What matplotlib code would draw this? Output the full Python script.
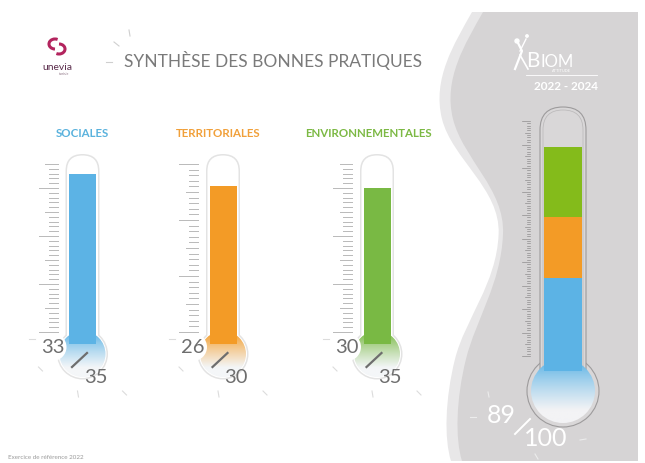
import numpy as np
import matplotlib.pyplot as plt
from matplotlib.patches import Circle, FancyBboxPatch, Rectangle, PathPatch, Arc
from matplotlib.path import Path
from matplotlib.colors import to_rgb

# data
categories = ['SOCIALES', 'TERRITORIALES', 'ENVIRONNEMENTALES']
scores = [33, 26, 30]
max_scores = [35, 30, 35]
total_score = 89
total_max = 100
period = '2022 - 2024'

cat_colors = ['#5cb3e5', '#f39b26', '#79b944']
label_colors = ['#5ab2dd', '#f1a03a', '#7cb944']
big_colors = ['#5cb3e5', '#f39b26', '#84bb1b']

W, H = 645, 464
fig = plt.figure(figsize=(W / 100, H / 100), dpi=100)
ax = fig.add_axes([0, 0, 1, 1])
ax.set_xlim(0, W)
ax.set_ylim(H, 0)
ax.axis('off')
plt.rcParams['font.family'] = ['Lato', 'DejaVu Sans']


def gradient_disc(cx, cy, r, c_top, c_bot, z):
    # vertical gradient clipped to a disc
    t = np.linspace(0, 1, 100)[:, None]
    ct, cb = np.array(to_rgb(c_top)), np.array(to_rgb(c_bot))
    w = np.clip((t - 0.05) / 0.75, 0, 1) ** 0.8
    img = (ct[None, None, :] * (1 - w[..., None]) + cb[None, None, :] * w[..., None])
    img = np.repeat(img, 2, axis=1)
    im = ax.imshow(img, extent=(cx - r, cx + r, cy + r, cy - r), zorder=z, aspect='auto', interpolation='bilinear')
    clip = Circle((cx, cy), r, transform=ax.transData)
    im.set_clip_path(clip)


def scale_ticks(x_right, y_base, y_top, vmax, color, minor_len, major_len, lw):
    step = (y_base - y_top) / vmax
    for v in range(vmax + 1):
        y = y_base - v * step
        if v % 10 == 0:
            ln = major_len
        elif v % 5 == 0:
            ln = minor_len * 1.35
        else:
            ln = minor_len
        ax.plot([x_right - ln, x_right], [y, y], color=color, lw=lw, zorder=3)


# ---- grey panel on the right ----
def panel_path(dx):
    verts = [(638, 13), (483 + dx, 13),
             (465 + dx, 45), (443 + dx, 80), (453 + dx, 120),
             (463 + dx, 160), (505 + dx * 0.4, 190), (503 + dx * 0.4, 235),
             (501 + dx * 0.4, 285), (476 + dx, 320), (466 + dx, 360),
             (456 + dx, 400), (455 + dx, 440), (462 + dx, 462),
             (638, 462), (638, 13)]
    codes = [Path.MOVETO, Path.LINETO,
             Path.CURVE4, Path.CURVE4, Path.CURVE4,
             Path.CURVE4, Path.CURVE4, Path.CURVE4,
             Path.CURVE4, Path.CURVE4, Path.CURVE4,
             Path.CURVE4, Path.CURVE4, Path.CURVE4,
             Path.LINETO, Path.CLOSEPOLY]
    return Path(verts, codes)


ax.add_patch(PathPatch(panel_path(-11), facecolor='#e8e7e8', edgecolor='none', zorder=0))
ax.add_patch(PathPatch(panel_path(0), facecolor='#d6d4d5', edgecolor='none', zorder=0.5))

# ---- header ----
ax.text(124, 60, 'SYNTHÈSE DES BONNES PRATIQUES', fontsize=12.5, color='#7a7a7a',
        ha='left', va='center', zorder=5)
for (x0, y0, x1, y1) in [(129, 31, 130, 37), (114, 43, 119, 47), (106, 63, 112, 63)]:
    ax.plot([x0, x1], [y0, y1], color='#cfcfcf', lw=0.8, zorder=2)

# unevia logo
ax.add_patch(Arc((55, 45), 12, 10, theta1=90, theta2=300, color='#b3245e', lw=2.2, zorder=5))
ax.add_patch(Arc((59, 50), 12, 10, theta1=270, theta2=480, color='#b3245e', lw=2.2, zorder=5))
ax.text(57, 67, 'unevia', fontsize=7.5, color='#5b2d4c', ha='center', va='center', zorder=5)
ax.text(64, 74, 'tunisie', fontsize=2.5, color='#8a7080', ha='center', va='center', zorder=5)

# footer
ax.text(8, 458, 'Exercice de référence 2022', fontsize=4.5, color='#9a9a9a', ha='left', va='center')

# ---- small thermometers ----
centers = [82.5, 223, 377]
label_x = [82, 218, 368]
tube_top = 155
bulb_y = 355
y_base, y_full = 333, 165

for i, cat in enumerate(categories):
    cx = centers[i]
    ax.text(label_x[i], 134, cat, fontsize=8.3, fontweight='bold', color=label_colors[i],
            ha='center', va='center', zorder=5)
    # outline
    ax.add_patch(Circle((cx, bulb_y), 25.5, facecolor='#e3e3e3', edgecolor='none', zorder=1))
    ax.add_patch(FancyBboxPatch((cx - 17, tube_top), 34, bulb_y - tube_top,
                                boxstyle='round,pad=0,rounding_size=17',
                                facecolor='#e3e3e3', edgecolor='none', zorder=1))
    ax.add_patch(Circle((cx, bulb_y), 24, facecolor='white', edgecolor='none', zorder=1.2))
    ax.add_patch(FancyBboxPatch((cx - 15.5, tube_top + 1.5), 31, bulb_y - tube_top,
                                boxstyle='round,pad=0,rounding_size=15.5',
                                facecolor='white', edgecolor='none', zorder=1.2))
    # fill column
    level = y_base - scores[i] / max_scores[i] * (y_base - y_full)
    ax.add_patch(Rectangle((cx - 13.5, level), 27, bulb_y - 12 - level,
                           facecolor=cat_colors[i], edgecolor='none', zorder=2))
    gradient_disc(cx, bulb_y, 23, cat_colors[i], '#f4f6f8', 1.5)
    ax.add_patch(Rectangle((cx - 13.5, bulb_y - 16), 27, 6,
                           facecolor=cat_colors[i], edgecolor='none', zorder=1.6))
    # scale
    scale_ticks(cx - 25, y_base, y_full, max_scores[i], '#b9b9b9', 9, 19, 0.7)
    # value labels
    ax.add_patch(Circle((cx - 30, 348), 14, facecolor='white', edgecolor='none', zorder=4))
    ax.text(cx - 30, 348, str(scores[i]), fontsize=14.5, color='#6e6e6e',
            ha='center', va='center', zorder=5)
    ax.plot([cx - 10.5, cx + 4.5], [368, 354], color='#6e6e6e', lw=1.6, zorder=5)
    ax.text(cx + 13, 378, str(max_scores[i]), fontsize=14.5, color='#6e6e6e',
            ha='center', va='center', zorder=5)
    for (dx0, dy0, dx1, dy1) in [(-54, 340, -48, 340), (-44, 368, -40, 372), (-5, 392, -4, 398),
                                 (40, 392, 44, 396)]:
        ax.plot([cx + dx0, cx + dx1], [dy0, dy1], color='#dcdcdc', lw=0.8, zorder=2)

# ---- big thermometer ----
bcx = 563
btop = 108
bbulb = 392
b_base, b_full = 357, 122

ax.add_patch(Circle((bcx, bbulb), 36, facecolor='#d9d7d8', edgecolor='#9d9b9c', lw=0.8, zorder=1))
ax.add_patch(FancyBboxPatch((bcx - 23, btop), 46, bbulb - btop,
                            boxstyle='round,pad=0,rounding_size=23',
                            facecolor='#d9d7d8', edgecolor='#9d9b9c', lw=0.8, zorder=1))
ax.add_patch(Rectangle((bcx - 22.4, bbulb - 40), 44.8, 20, facecolor='#d9d7d8', edgecolor='none', zorder=1.1))
ax.add_patch(FancyBboxPatch((bcx - 20, btop + 3), 40, bbulb - btop,
                            boxstyle='round,pad=0,rounding_size=20',
                            facecolor='none', edgecolor='#bdbbbc', lw=0.6, zorder=1.2))
gradient_disc(bcx, bbulb, 32, big_colors[0], '#f3f3f5', 1.5)

bottom = b_base
step = (b_base - b_full) / total_max
for i, s in enumerate(scores):
    top = bottom - s * step
    base = bbulb - 20 if i == 0 else bottom
    ax.add_patch(Rectangle((bcx - 19, top), 38, base - top,
                           facecolor=big_colors[i], edgecolor='none', zorder=2))
    bottom = top
scale_ticks(530, b_base, b_full, total_max, '#8f8d8e', 3.5, 8, 0.5)

ax.text(501, 416, str(total_score), fontsize=18, color='white', ha='center', va='center', zorder=5)
ax.plot([515, 530], [435, 420], color='white', lw=1.4, zorder=5)
ax.text(546, 439, str(total_max), fontsize=18, color='white', ha='center', va='center', zorder=5)
for (x0, y0, x1, y1) in [(488, 393, 489, 398), (470, 418, 476, 418), (580, 441, 586, 440),
                         (535, 455, 538, 460)]:
    ax.plot([x0, x1], [y0, y1], color='#ececec', lw=0.8, zorder=2)

# Biom attitude logo
ax.text(526, 67, 'B', fontsize=15, color='white', ha='left', va='baseline', zorder=5)
ax.text(541, 67, 'IOM', fontsize=12, color='white', ha='left', va='baseline', zorder=5)
ax.text(561, 71.5, 'ATTITUDE', fontsize=2.8, color='white', ha='center', va='center', zorder=5)
ax.plot([526, 597], [76, 76], color='white', lw=0.6, zorder=5)
ax.text(566, 86, period, fontsize=8.5, color='white', fontweight='bold', ha='center', va='center', zorder=5)
ax.plot([515, 522, 518], [70, 52, 44], color='white', lw=1.6, zorder=5)
ax.plot([520, 528], [56, 70], color='white', lw=1.2, zorder=5)
ax.plot([520, 526], [52, 40], color='white', lw=1.0, zorder=5)
ax.add_patch(Circle((517, 42), 2, color='white', zorder=5))
ax.add_patch(Circle((527, 37), 1.2, color='white', zorder=5))

fig.savefig('out.png', dpi=100)
